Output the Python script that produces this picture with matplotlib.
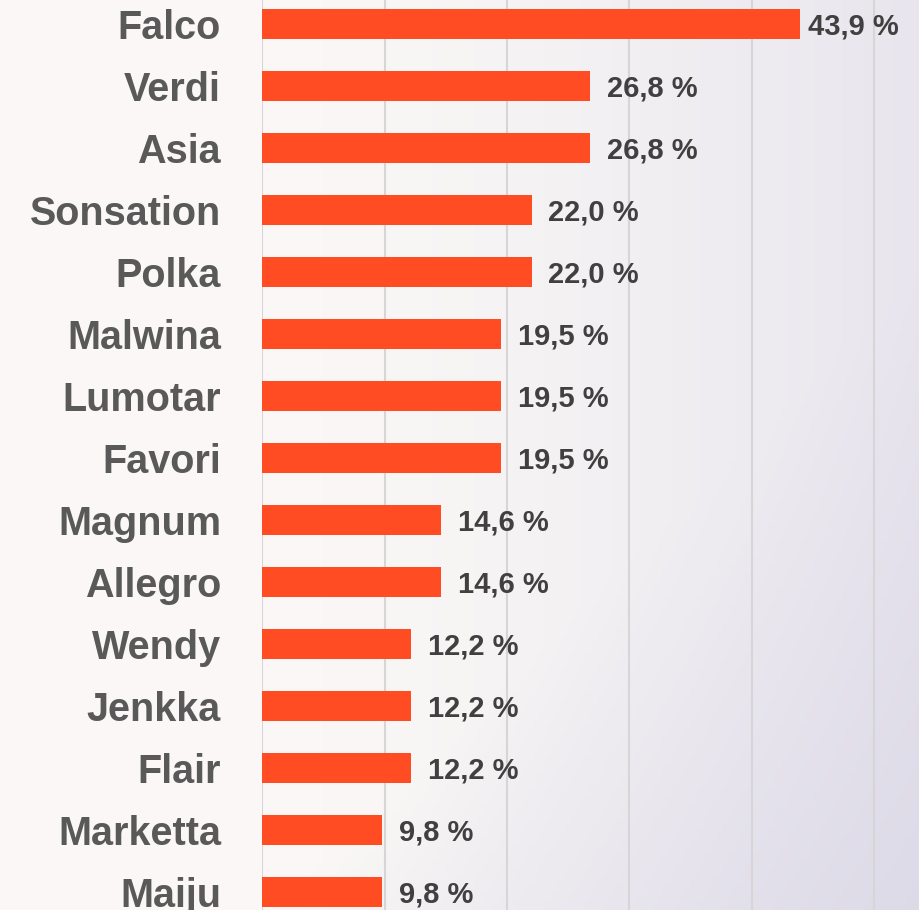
import matplotlib.pyplot as plt
import numpy as np

kategorie = ["Falco", "Verdi", "Asia", "Sonsation", "Polka", "Malwina", "Lumotar",
             "Favori", "Magnum", "Allegro", "Wendy", "Jenkka", "Flair", "Marketta", "Maiju"]
wartosci = [43.9, 26.8, 26.8, 22.0, 22.0, 19.5, 19.5, 19.5, 14.6, 14.6, 12.2, 12.2, 12.2, 9.8, 9.8]

fig = plt.figure(figsize=(9.2, 9.1), dpi=100)

# tlo - delikatny gradient
bg = fig.add_axes([0, 0, 1, 1], zorder=-10)
xx, yy = np.meshgrid(np.linspace(0, 1, 200), np.linspace(0, 1, 200))
c_left = np.array([250, 247, 246]) / 255
c_right = np.array([232, 229, 238]) / 255
c_br = np.array([218, 216, 230]) / 255
t = np.clip((xx - 0.35) / 0.65, 0, 1) ** 1.3
img = c_left * (1 - t[..., None]) + c_right * t[..., None]
s = np.clip((xx + yy - 1.3) / 0.7, 0, 1)[..., None] * 0.8
img = img * (1 - s) + c_br * s
bg.imshow(img, extent=[0, 1, 0, 1], aspect="auto", origin="upper")
bg.axis("off")

ax = fig.add_axes([262 / 920, 0, 658 / 920, 1])
ax.patch.set_alpha(0)
y = np.arange(len(kategorie))
ax.barh(y, wartosci, height=0.49, color="#FF4C22", zorder=3)

ax.set_xlim(0, 658 / 12.25)
ax.set_ylim((910 - 24) / 62, -24 / 62)
ax.set_xticks([0, 10, 20, 30, 40, 50])
ax.set_xticklabels([])
ax.tick_params(axis="x", length=0)
ax.grid(axis="x", color="#D6D6D6", linewidth=1.5, zorder=0)
ax.set_yticks(y)
ax.set_yticklabels(kategorie, fontsize=28.5, fontweight="bold", color="#595959",
                   family="Liberation Sans")
ax.tick_params(axis="y", length=0, pad=29.5)
for sp in ax.spines.values():
    sp.set_visible(False)

for i, v in enumerate(wartosci):
    pad = 6 if v == max(wartosci) else 12
    ax.annotate(f"{v:.1f} %".replace(".", ","), (v, i), xytext=(pad, -2),
                textcoords="offset points", va="center", ha="left",
                fontsize=21, fontweight="bold", color="#404040",
                family="Liberation Sans")

fig.savefig("out.png", dpi=100)
